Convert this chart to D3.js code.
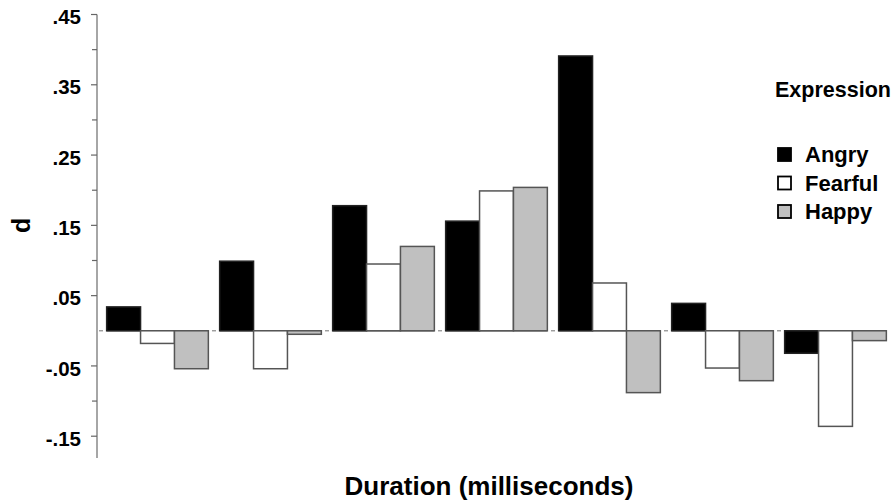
<!DOCTYPE html>
<html>
<head>
<meta charset="utf-8">
<script src="https://cdnjs.cloudflare.com/ajax/libs/d3/7.8.5/d3.min.js"></script>
<style>
  body { margin: 0; background: #fff; }
  text { font-family: "Liberation Sans", Arial, sans-serif; font-weight: bold; fill: #000; }
</style>
</head>
<body>
<svg id="chart" width="892" height="503"></svg>
<script>
  // durations (no labels shown on the x axis)
  var groups = ["g1", "g2", "g3", "g4", "g5", "g6", "g7"];
  var expressions = ["Angry", "Fearful", "Happy"];
  var angry   = [0.034, 0.099, 0.178, 0.156, 0.391, 0.039, -0.032];
  var fearful = [-0.018, -0.054, 0.095, 0.199, 0.068, -0.053, -0.136];
  var happy   = [-0.054, -0.005, 0.120, 0.204, -0.088, -0.071, -0.014];
  var majorTicks = [0.45, 0.35, 0.25, 0.15, 0.05, -0.05, -0.15];
  var minorTicks = [0.40, 0.30, 0.20, 0.10, -0.10];

  var series = [angry, fearful, happy];
  var fills = { Angry: "#000000", Fearful: "#ffffff", Happy: "#c0c0c0" };

  var svg = d3.select("#chart");

  var y = d3.scaleLinear().domain([-0.181, 0.45]).range([458, 14.5]);
  var x0 = d3.scaleBand().domain(groups).range([101, 892]).paddingInner(0.1).paddingOuter(0.05);
  var x1 = d3.scaleBand().domain(expressions).range([0, x0.bandwidth()]);

  var axisX = 97;

  // y axis
  svg.append("line")
    .attr("x1", axisX).attr("x2", axisX)
    .attr("y1", y(0.45)).attr("y2", y(-0.181))
    .attr("stroke", "#888").attr("stroke-width", 1.5);

  svg.selectAll(".major").data(majorTicks).enter().append("line")
    .attr("x1", axisX - 6).attr("x2", axisX)
    .attr("y1", d => y(d)).attr("y2", d => y(d))
    .attr("stroke", "#666").attr("stroke-width", 1.2);

  svg.selectAll(".minor").data(minorTicks).enter().append("line")
    .attr("x1", axisX - 5).attr("x2", axisX)
    .attr("y1", d => y(d)).attr("y2", d => y(d))
    .attr("stroke", "#666").attr("stroke-width", 1.2);

  svg.selectAll(".tlabel").data(majorTicks).enter().append("text")
    .attr("x", 81).attr("y", d => y(d))
    .attr("dy", "0.47em")
    .attr("text-anchor", "end")
    .attr("font-size", 20.5)
    .text(d => d3.format(".2f")(d).replace("0.", ".").replace("\u2212", "-"));

  // zero baseline per group
  var gaps = groups.map(g => x0(g) - x0.step() * x0.paddingInner() / 2);
  svg.selectAll(".gapdash").data(gaps).enter().append("line")
    .attr("x1", d => d - 2).attr("x2", d => d + 2)
    .attr("y1", y(0)).attr("y2", y(0))
    .attr("stroke", "#888").attr("stroke-width", 1.2);

  svg.selectAll(".base").data(groups).enter().append("line")
    .attr("x1", d => x0(d)).attr("x2", d => x0(d) + x0.bandwidth())
    .attr("y1", y(0)).attr("y2", y(0))
    .attr("stroke", "#777").attr("stroke-width", 1.5);

  // bars
  var rows = [];
  groups.forEach(function (g, i) {
    expressions.forEach(function (e, j) {
      rows.push({ group: g, expr: e, value: series[j][i] });
    });
  });

  svg.selectAll(".bar").data(rows).enter().append("rect")
    .attr("x", d => x0(d.group) + x1(d.expr))
    .attr("width", x1.bandwidth())
    .attr("y", d => y(Math.max(0, d.value)))
    .attr("height", d => Math.abs(y(d.value) - y(0)))
    .attr("fill", d => fills[d.expr])
    .attr("stroke", d => d.expr === "Angry" ? "#222" : "#555")
    .attr("stroke-width", 1.5);

  // axis titles
  svg.append("text")
    .attr("transform", "translate(30," + y(0.15) + ") rotate(-90)")
    .attr("text-anchor", "middle")
    .attr("font-size", 25)
    .text("d");

  svg.append("text")
    .attr("x", 489).attr("y", 495)
    .attr("text-anchor", "middle")
    .attr("font-size", 26)
    .text("Duration (milliseconds)");

  // legend
  var legend = svg.append("g").attr("transform", "translate(775,0)");
  legend.append("text").attr("x", 0).attr("y", 97).attr("font-size", 21.5).text("Expression");
  var li = legend.selectAll(".li").data(expressions).enter().append("g")
    .attr("transform", (d, i) => "translate(0," + (162 + i * 28.5) + ")");
  li.append("rect")
    .attr("x", 3).attr("y", -14).attr("width", 13).attr("height", 13)
    .attr("fill", d => fills[d])
    .attr("stroke", "#000").attr("stroke-width", 1.8);
  li.append("text").attr("x", 30).attr("y", 0).attr("font-size", 22).text(d => d);
</script>
</body>
</html>
